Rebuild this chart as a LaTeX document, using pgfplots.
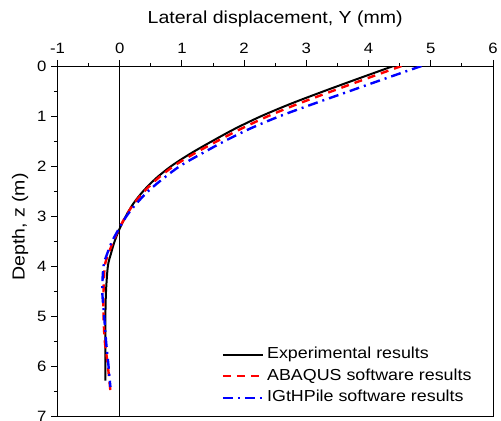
\documentclass[border=0pt]{standalone}
\usepackage{pgfplots}
\pgfplotsset{compat=1.18}
\usepackage{fontspec}
\setmainfont{Liberation Sans}[FakeStretch=1.12]
\begin{document}
\begin{tikzpicture}
\begin{axis}[
  scale only axis, width=435.5bp, height=350bp,
  xmin=-1, xmax=6, ymin=0, ymax=7, y dir=reverse,
  xtick={-1,0,1,2,3,4,5,6}, ytick={0,1,2,3,4,5,6,7},
  xtick pos=upper, xticklabel pos=upper,
  ytick pos=left,
  tick align=outside,
  minor x tick num=1, minor y tick num=1,
  major tick length=6bp, minor tick length=3bp,
  axis line style={line width=0.9bp},
  every tick/.style={line width=0.9bp, black},
  tick label style={font=\fontsize{15}{15}\selectfont},
  xticklabel style={yshift=3bp},
  yticklabel style={xshift=-1.5bp},
  /pgf/number format/assume math mode=true,
  label style={font=\fontsize{17.5}{17.5}\selectfont},
  xlabel={Lateral displacement, Y (mm)},
  xlabel style={at={(axis description cs:0.5,1)}, anchor=base, yshift=42bp},
  ylabel={Depth, z (m)},
  ylabel style={at={(axis description cs:0,0.54)}, anchor=center, rotate=0, yshift=37.5bp},
  legend style={draw=none, fill=none, inner sep=0pt, outer sep=0pt,
    at={(axis cs:1.64,5.62)}, anchor=north west,
    font=\fontsize{16}{16}\selectfont,
    nodes={inner ysep=0pt, inner xsep=3bp, text height=11.5bp, text depth=3.5bp},
    row sep=6.7bp},
  legend cell align=left,
  legend image code/.code={\draw[#1] (0bp,0bp) -- (40bp,0bp);},
]
\addplot[black, line width=0.8bp, forget plot] coordinates {(0,0) (0,7)};
\addplot[black, line width=2bp, smooth] table {
x y
4.40 0
3.84 0.25
3.29 0.5
2.76 0.75
2.28 1.0
1.86 1.25
1.49 1.5
1.14 1.75
0.83 2.0
0.58 2.25
0.38 2.5
0.22 2.75
0.10 3.0
0.00 3.25
-0.08 3.5
-0.14 3.75
-0.19 4.0
-0.22 4.5
-0.23 5.0
-0.23 5.5
-0.23 6.0
-0.23 6.29
};
\addlegendentry{Experimental results}
\addplot[red, line width=2.4bp, dash pattern=on 8bp off 6bp, smooth] table {
x y
4.53 0
3.97 0.25
3.42 0.5
2.88 0.75
2.39 1.0
1.96 1.25
1.57 1.5
1.20 1.75
0.87 2.0
0.61 2.25
0.40 2.5
0.23 2.75
0.10 3.0
-0.01 3.25
-0.10 3.5
-0.18 3.75
-0.24 4.0
-0.26 4.5
-0.26 5.0
-0.24 5.5
-0.19 6.0
-0.15 6.5
};
\addlegendentry{ABAQUS software results}
\addplot[blue, line width=2.4bp, dash pattern=on 10bp off 5bp on 2bp off 5bp, smooth] table {
x y
4.85 0
4.27 0.25
3.70 0.5
3.13 0.75
2.58 1.0
2.10 1.25
1.69 1.5
1.32 1.75
0.97 2.0
0.70 2.25
0.46 2.5
0.27 2.75
0.11 3.0
-0.01 3.25
-0.12 3.5
-0.20 3.75
-0.26 4.0
-0.28 4.5
-0.25 5.0
-0.22 5.5
-0.18 6.0
-0.15 6.42
};
\addlegendentry{IGtHPile software results}
\coordinate (A) at (axis cs:-1,7);
\coordinate (B) at (axis cs:6,0);
\end{axis}
\pgfresetboundingbox
\path[use as bounding box] ([shift={(-57.5bp,-5bp)}]A) rectangle ([shift={(8bp,66bp)}]B);
\end{tikzpicture}
\end{document}
